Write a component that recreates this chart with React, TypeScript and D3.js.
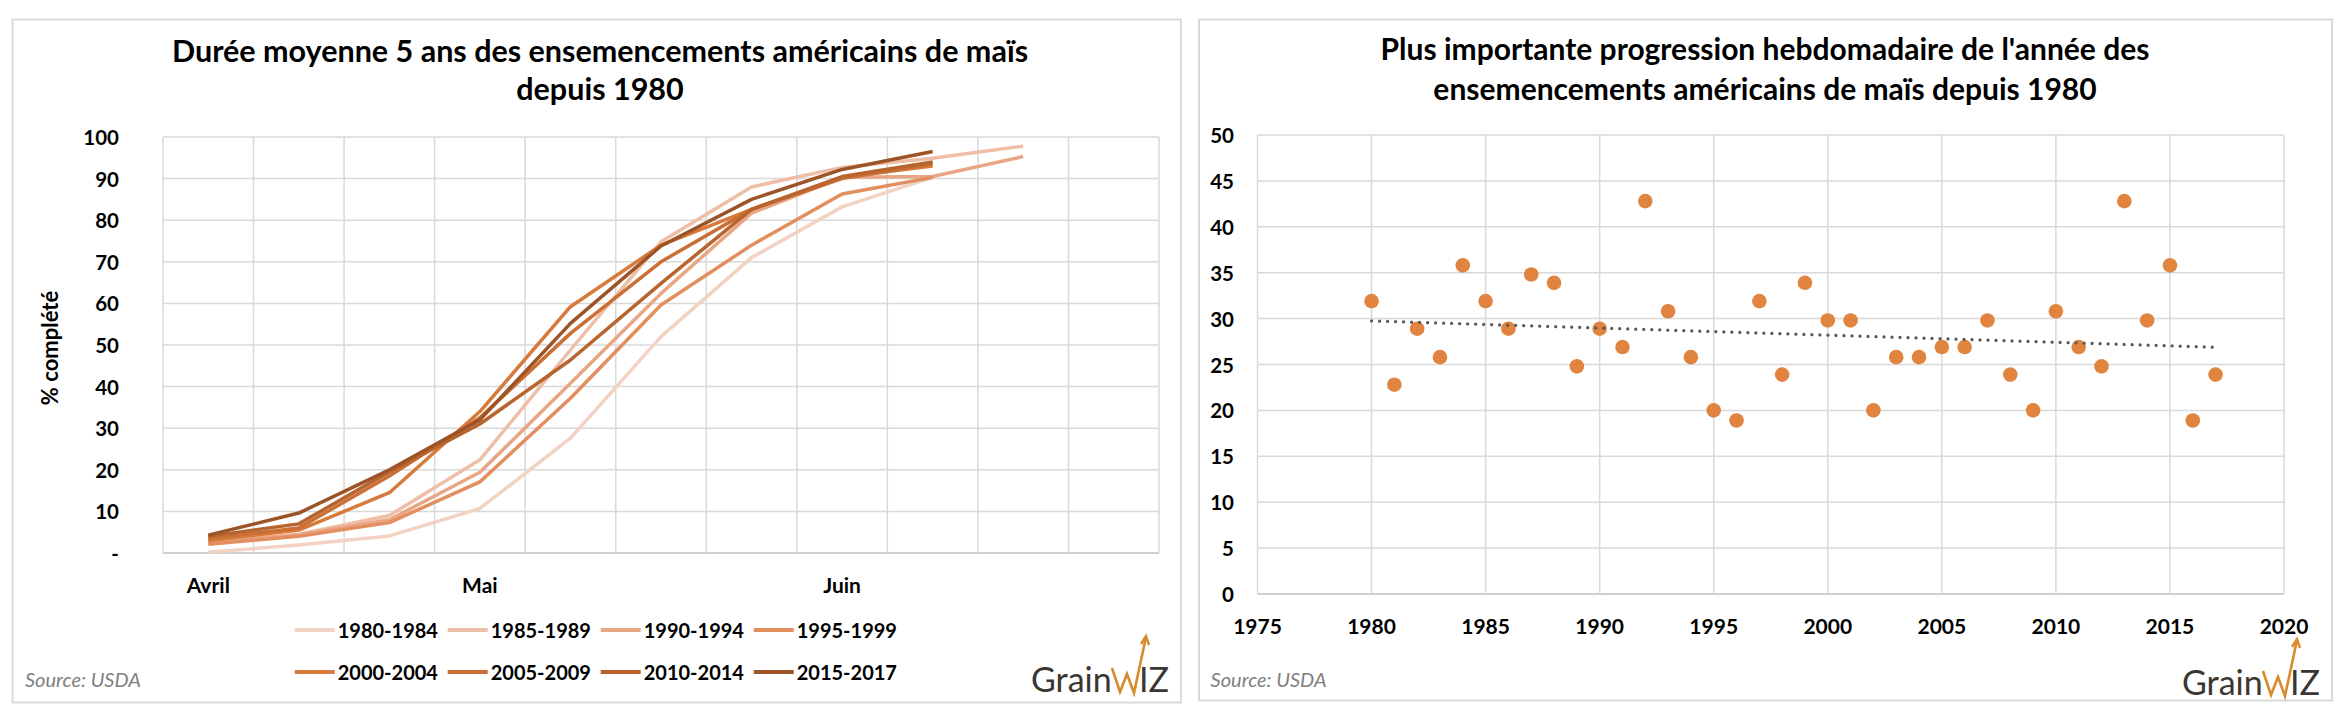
import React from "react";
import * as d3 from "d3";

// ---------- Left chart data ----------
const WEEKS = ["Avril", "", "", "Mai", "", "", "", "Juin", "", "", ""];
const SERIES_NAMES = [
  "1980-1984", "1985-1989", "1990-1994", "1995-1999",
  "2000-2004", "2005-2009", "2010-2014", "2015-2017",
];
const S_1980_1984 = [0.2, 1.9, 4.1, 10.7, 27.6, 52, 71, 83.2, 90.3];
const S_1985_1989 = [2.5, 4.5, 9, 22.4, 48.8, 74.8, 88, 92.7, 94.9, 97.8];
const S_1990_1994 = [2.5, 4.4, 8, 19.4, 40.8, 62.4, 81.7, 90.3, 90.5, 95.3];
const S_1995_1999 = [2.1, 4, 7.3, 17.1, 37.2, 59.6, 74, 86.3, 90.3];
const S_2000_2004 = [3, 5.5, 14.5, 34, 59.2, 74, 82.6, 90.3, 93];
const S_2005_2009 = [3.5, 6, 18.5, 32.5, 52.8, 70, 82.6, 90, 93.5];
const S_2010_2014 = [4, 7, 19.5, 31, 46.4, 64.8, 82.6, 90.5, 94];
const S_2015_2017 = [4.3, 9.6, 20, 32, 55.2, 73.8, 85, 92.2, 96.5];
const SERIES = [
  S_1980_1984, S_1985_1989, S_1990_1994, S_1995_1999,
  S_2000_2004, S_2005_2009, S_2010_2014, S_2015_2017,
];
const SERIES_COLORS = [
  "#F2D2C3", "#EEBEA6", "#E9A684", "#E38E5E",
  "#D77A3B", "#CB7035", "#B8642E", "#9C5426",
];
const LEFT_Y_TICKS = [0, 10, 20, 30, 40, 50, 60, 70, 80, 90, 100];

// ---------- Right chart data ----------
const YEARS = d3.range(1980, 2018);
const WEEKLY_MAX = [
  31.9, 22.8, 28.9, 25.8, 35.8, 31.9, 28.9, 34.8, 33.9, 24.8,
  28.9, 26.9, 42.8, 30.8, 25.8, 20, 18.9, 31.9, 23.9, 33.9,
  29.8, 29.8, 20, 25.8, 25.8, 26.9, 26.9, 29.8, 23.9, 20,
  30.8, 26.9, 24.8, 42.8, 29.8, 35.8, 18.9, 23.9,
];
const RIGHT_X_TICKS = [1975, 1980, 1985, 1990, 1995, 2000, 2005, 2010, 2015, 2020];
const RIGHT_Y_TICKS = [0, 5, 10, 15, 20, 25, 30, 35, 40, 45, 50];

const FONT = "Lato, 'Open Sans', sans-serif";
const GRID = "#D9D9D9";

function Logo({ x, y }: { x: number; y: number }) {
  // x: left edge, y: baseline
  const ox = x + 81;
  return (
    <g>
      <text x={x} y={y} fontFamily={FONT} fontSize={34} fill="#3B3632">Grain</text>
      <polyline
        points={`${ox},${y - 24} ${ox + 8},${y} ${ox + 15},${y - 18} ${ox + 22},${y + 1} ${ox + 34},${y - 55}`}
        fill="none" stroke="#D98A2B" strokeWidth={2.6} strokeLinejoin="miter"
      />
      <polyline
        points={`${ox + 29},${y - 48} ${ox + 34},${y - 56} ${ox + 37},${y - 47}`}
        fill="none" stroke="#D98A2B" strokeWidth={2.4}
      />
      <text x={ox + 27} y={y} fontFamily={FONT} fontSize={34} fill="#3B3632">IZ</text>
    </g>
  );
}

function LeftChart() {
  const xBand = d3.scaleBand<number>().domain(d3.range(WEEKS.length)).range([163, 1159]).padding(0);
  const bw = xBand.bandwidth();
  const y = d3.scaleLinear().domain([0, 100]).range([553, 137]);
  const line = d3.line<number>().x((_, i) => (xBand(i) as number) + bw / 2).y((d) => y(d));
  const cx = 600;
  return (
    <g>
      <rect x={12.5} y={19.5} width={1168.5} height={683} fill="#fff" stroke={GRID} strokeWidth={2} />
      <text x={cx} y={62} textAnchor="middle" fontFamily={FONT} fontWeight={700} fontSize={30.5}>
        Durée moyenne 5 ans des ensemencements américains de maïs
      </text>
      <text x={cx} y={100} textAnchor="middle" fontFamily={FONT} fontWeight={700} fontSize={30.5}>
        depuis 1980
      </text>
      {/* grid */}
      {LEFT_Y_TICKS.map((t) => (
        <line key={"h" + t} x1={163} x2={1159} y1={y(t)} y2={y(t)} stroke={t === 0 ? "#CFCFCF" : GRID} strokeWidth={t === 0 ? 2 : 1.5} />
      ))}
      {d3.range(WEEKS.length + 1).map((i) => {
        const xx = i < WEEKS.length ? (xBand(i) as number) : 1159;
        return <line key={"v" + i} x1={xx} x2={xx} y1={y(100)} y2={y(0)} stroke={GRID} strokeWidth={1.5} />;
      })}
      {/* y ticks */}
      {LEFT_Y_TICKS.map((t) => (
        <text key={"yl" + t} x={119} y={y(t)} textAnchor="end" dominantBaseline="central"
          fontFamily={FONT} fontWeight={700} fontSize={20.5}>
          {t === 0 ? "-" : t}
        </text>
      ))}
      <text transform="translate(49,348) rotate(-90)" textAnchor="middle" dominantBaseline="central"
        fontFamily={FONT} fontWeight={700} fontSize={22}>
        % complété
      </text>
      {/* x labels */}
      {WEEKS.map((w, i) => w ? (
        <text key={"x" + i} x={(xBand(i) as number) + bw / 2} y={584} textAnchor="middle" dominantBaseline="central"
          fontFamily={FONT} fontWeight={700} fontSize={21}>{w}</text>
      ) : null)}
      {/* lines */}
      {SERIES.map((s, k) => (
        <path key={"s" + k} d={line(s) || ""} fill="none" stroke={SERIES_COLORS[k]} strokeWidth={3.5} strokeLinejoin="round" />
      ))}
      {/* legend */}
      {SERIES_NAMES.map((n, k) => {
        const lx = 294.7 + (k % 4) * 153;
        const ly = k < 4 ? 630 : 672;
        return (
          <g key={"lg" + k}>
            <line x1={lx} x2={lx + 40} y1={ly} y2={ly} stroke={SERIES_COLORS[k]} strokeWidth={4} />
            <text x={lx + 43} y={ly} dominantBaseline="central" fontFamily={FONT} fontWeight={700} fontSize={20}>{n}</text>
          </g>
        );
      })}
      <text x={25} y={687} fontFamily={FONT} fontStyle="italic" fontSize={20} fill="#7F7F7F">Source: USDA</text>
      <Logo x={1031} y={692} />
    </g>
  );
}

function RightChart() {
  const x = d3.scaleLinear().domain([1975, 2020]).range([1257.5, 2284]);
  const y = d3.scaleLinear().domain([0, 50]).range([594, 135]);
  const n = YEARS.length;
  const mx = d3.mean(YEARS) as number;
  const my = d3.mean(WEEKLY_MAX) as number;
  const slope = d3.sum(YEARS, (yr, i) => (yr - mx) * (WEEKLY_MAX[i] - my)) / d3.sum(YEARS, (yr) => (yr - mx) ** 2);
  const inter = my - slope * mx;
  const x0 = YEARS[0], x1 = YEARS[n - 1];
  const cx = 1765;
  return (
    <g>
      <rect x={1199} y={19.5} width={1133} height={681} fill="#fff" stroke={GRID} strokeWidth={2} />
      <text x={cx} y={60} textAnchor="middle" fontFamily={FONT} fontWeight={700} fontSize={30}>
        Plus importante progression hebdomadaire de l'année des
      </text>
      <text x={cx} y={99.5} textAnchor="middle" fontFamily={FONT} fontWeight={700} fontSize={30}>
        ensemencements américains de maïs depuis 1980
      </text>
      {RIGHT_Y_TICKS.map((t) => (
        <line key={"h" + t} x1={x(1975)} x2={x(2020)} y1={y(t)} y2={y(t)} stroke={t === 0 ? "#CFCFCF" : GRID} strokeWidth={t === 0 ? 2 : 1.5} />
      ))}
      {RIGHT_X_TICKS.map((t) => (
        <line key={"v" + t} x1={x(t)} x2={x(t)} y1={y(50)} y2={y(0)} stroke={GRID} strokeWidth={1.5} />
      ))}
      {RIGHT_Y_TICKS.map((t) => (
        <text key={"yl" + t} x={1234} y={y(t)} textAnchor="end" dominantBaseline="central"
          fontFamily={FONT} fontWeight={700} fontSize={20.5}>{t}</text>
      ))}
      {RIGHT_X_TICKS.map((t) => (
        <text key={"xl" + t} x={x(t)} y={625} textAnchor="middle" dominantBaseline="central"
          fontFamily={FONT} fontWeight={700} fontSize={21}>{t}</text>
      ))}
      {YEARS.map((yr, i) => (
        <circle key={"p" + yr} cx={x(yr)} cy={y(WEEKLY_MAX[i])} r={7.3} fill="#E0843F" />
      ))}
      <line x1={x(x0)} x2={x(x1)} y1={y(inter + slope * x0)} y2={y(inter + slope * x1)}
        stroke="#595959" strokeWidth={3.3} strokeDasharray="0.01 8" strokeLinecap="round" />
      <text x={1210.6} y={687} fontFamily={FONT} fontStyle="italic" fontSize={20} fill="#7F7F7F">Source: USDA</text>
      <Logo x={2182} y={695} />
    </g>
  );
}

export default function App() {
  return (
    <svg width={2344} height={716} viewBox="0 0 2344 716"
      style={{ position: "absolute", left: 0, top: 0, display: "block", background: "#fff" }}>
      <rect x={0} y={0} width={2344} height={716} fill="#fff" />
      <LeftChart />
      <RightChart />
    </svg>
  );
}
